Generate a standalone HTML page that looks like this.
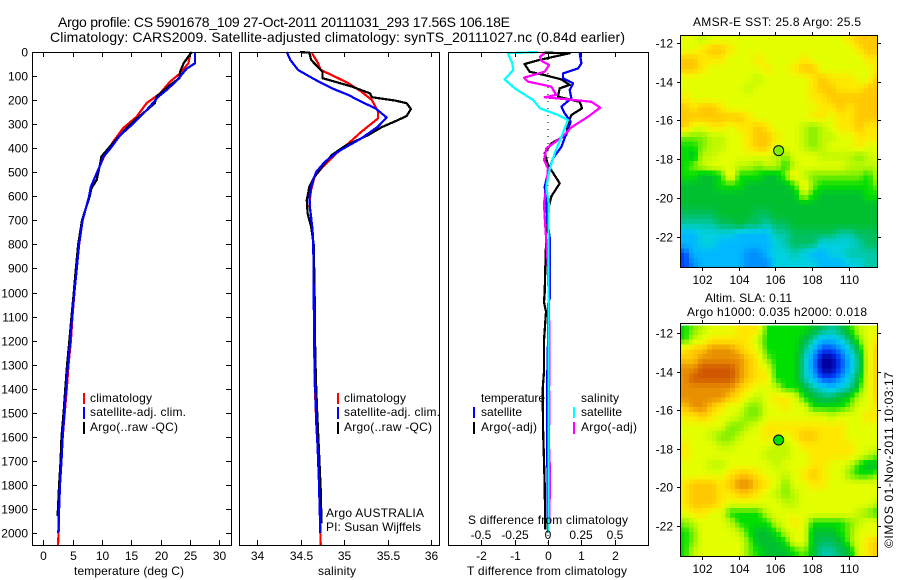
<!DOCTYPE html>
<html lang="en">
<head>
<meta charset="utf-8">
<title>Argo profile 5901678_109</title>
<style>
html,body{margin:0;padding:0;background:#fff;width:900px;height:580px;overflow:hidden}
svg{display:block}
text{font-family:"Liberation Sans",sans-serif;font-size:12px;fill:#000}
.title{font-size:14px}
</style>
</head>
<body>
<svg id="chart" xmlns="http://www.w3.org/2000/svg" width="900" height="580" viewBox="0 0 900 580">
  <rect x="0" y="0" width="900" height="580" fill="#fff"/>
  <text class="title" x="58" y="27" textLength="452">Argo profile: CS 5901678_109 27-Oct-2011 20111031_293 17.56S 106.18E</text>
  <text class="title" x="50" y="42" textLength="575">Climatology: CARS2009. Satellite-adjusted climatology: synTS_20111027.nc (0.84d earlier)</text>
  <g id="layer-maps"></g>
  <g id="layer-lines"></g>
  <g id="layer-axes"></g>

  <g>
    <rect x="83" y="393" width="2" height="11" fill="#f00"/>
    <rect x="83" y="407" width="2" height="12" fill="#00f"/>
    <rect x="83" y="422" width="2" height="12" fill="#000"/>
    <text x="90" y="402" textLength="62">climatology</text>
    <text x="90" y="416" textLength="96">satellite-adj. clim.</text>
    <text x="90" y="431" textLength="88">Argo(..raw -QC)</text>
  </g>
  <g>
    <rect x="337" y="393" width="2" height="11" fill="#f00"/>
    <rect x="337" y="407" width="2" height="12" fill="#00f"/>
    <rect x="337" y="422" width="2" height="12" fill="#000"/>
    <text x="344" y="402" textLength="62">climatology</text>
    <text x="344" y="416" textLength="96">satellite-adj. clim.</text>
    <text x="344" y="431" textLength="88">Argo(..raw -QC)</text>
    <text x="326" y="517" textLength="98">Argo AUSTRALIA</text>
    <text x="326" y="531" textLength="95">PI: Susan Wijffels</text>
  </g>
  <g>
    <text x="481" y="402" textLength="64">temperature</text>
    <rect x="473" y="407" width="2" height="11" fill="#00f"/>
    <rect x="473" y="422" width="2" height="12" fill="#000"/>
    <text x="481" y="416" textLength="41">satellite</text>
    <text x="481" y="431" textLength="56">Argo(-adj)</text>
    <text x="581" y="402" textLength="38">salinity</text>
    <rect x="573" y="407" width="2" height="11" fill="#0ff"/>
    <rect x="573" y="422" width="2" height="12" fill="#f0f"/>
    <text x="581" y="416" textLength="41">satellite</text>
    <text x="581" y="431" textLength="56">Argo(-adj)</text>
  </g>

  <text x="74" y="575" textLength="110">temperature (deg C)</text>
  <text x="318" y="575" textLength="38">salinity</text>
  <text x="467" y="575" textLength="160">T difference from climatology</text>
  <text x="468" y="524" textLength="160">S difference from climatology</text>
  <text x="693" y="26" textLength="168">AMSR-E SST: 25.8 Argo: 25.5</text>
  <text x="705" y="302" textLength="87">Altim. SLA: 0.11</text>
  <text x="687" y="316" textLength="180">Argo h1000: 0.035 h2000: 0.018</text>
  <text transform="translate(893 548) rotate(-90)" textLength="176">©IMOS 01-Nov-2011 10:03:17</text>
</svg>
<script>
// ---- Temperature profile data (deg C vs depth in m) ----
const climTempDepth = [0,47,89,123,172,213,269,317,373,437,465,520,561,600,700,800,900,1000,1100,1200,1300,1400,1500,1600,1700,1800,1900,2000,2050];
const climTemp = [25.1,24.7,23.3,21.6,19.9,17.6,15.9,13.6,11.9,10.3,9.8,8.8,8.1,7.8,6.7,6.1,5.7,5.3,4.95,4.7,4.3,4.0,3.65,3.3,3.1,2.85,2.7,2.6,2.5];
const satTempDepth = [0,47,70,120,158,186,242,298,346,402,437,465,520,561,600,700,800,900,1000,1100,1200,1300,1400,1500,1600,1700,1800,1900,2000];
const satTemp = [25.85,25.85,24.4,22.7,21,19.6,17.6,15.3,13.1,11.4,10.2,9.8,8.8,8.1,7.8,6.7,6.08,5.7,5.3,4.9,4.6,4.2,3.87,3.6,3.3,3.1,2.85,2.7,2.55];
const argoTempDepth = [0,19,47,82,109,137,186,213,255,290,345,400,435,463,532,567,600,700,800,900,1000,1100,1200,1300,1400,1500,1600,1700,1800,1900,1930];
const argoTemp = [25.3,24.7,23.9,23.3,23.2,21.6,19.3,19,17,15.3,13.1,11.1,9.9,9.7,9.1,8.2,7.9,6.6,5.95,5.55,5.2,4.8,4.45,4.05,3.75,3.45,3.1,2.95,2.7,2.5,2.4];

// ---- Salinity profile data (psu vs depth in m) ----
const climSalDepth = [5,47,75,96,130,165,200,248,276,331,380,428,484,518,574,629,685,733,800,1000,1200,1364,1544,1641,1780,1974,2050];
const climSal = [34.63,34.7,34.73,34.86,35.05,35.2,35.32,35.39,35.39,35.2,35.05,34.89,34.74,34.66,34.62,34.6,34.62,34.63,34.645,34.65,34.655,34.66,34.68,34.695,34.71,34.725,34.73];
const satSalDepth = [0,33,75,114,151,179,207,234,272,310,359,414,456,498,546,601,657,733,800,1000,1200,1364,1544,1641,1780,1974,2000];
const satSal = [34.34,34.38,34.47,34.66,34.86,35.05,35.2,35.36,35.49,35.39,35.2,34.93,34.78,34.68,34.63,34.6,34.61,34.635,34.645,34.65,34.655,34.665,34.68,34.695,34.71,34.725,34.725];
const argoSalDepth = [0,3,33,82,109,123,144,172,188,202,213,237,266,283,313,345,391,428,470,518,560,615,671,726,800,1000,1200,1364,1502,1655,1821,1960];
const argoSal = [34.49,34.6,34.62,34.75,34.75,34.89,35.09,35.3,35.32,35.59,35.72,35.77,35.72,35.62,35.43,35.28,35.01,34.86,34.76,34.66,34.6,34.57,34.58,34.62,34.65,34.66,34.665,34.675,34.69,34.71,34.73,34.74];

// ---- Differences from climatology ----
const satDiffTDepth = [5,47,68,89,109,130,158,193,227,255,290,338,394,442,504,560,629,699,780,1020,1050,1200,1400,1560,2000];
const satDiffT = [0.95,1,0.9,0.45,0.45,0.75,0.65,0.7,0.4,0.5,0.68,0.55,0.4,0.15,0,-0.1,-0.05,-0.02,0.06,0.06,0,0,-0.03,-0.03,0];
const argoDiffTDepth = [3,5,33,50,82,96,114,137,151,186,207,234,262,297,345,380,421,470,546,601,657,699,800,900,1000,1040,1080,1200,1330,1400,1560,1700,1800,1900,1985];
const argoDiffT = [-0.1,0.65,-0.25,-0.7,-0.55,-0.1,0.4,0.65,0.35,0.3,0.95,1.02,0.7,0.6,0.55,0.1,-0.1,0,0.35,0.1,0,-0.05,-0.06,-0.08,-0.1,-0.12,-0.06,-0.12,-0.12,-0.16,-0.15,-0.12,-0.1,-0.09,-0.08];
const satDiffSDepth = [0,5,47,75,114,151,200,234,262,283,352,421,490,560,629,800,1200,2000];
const satDiffS = [-0.075,-0.3,-0.268,-0.26,-0.325,-0.25,-0.11,-0.06,0.075,0.15,0.1,0.05,0.012,-0.012,0.005,0.003,0.003,0.003];
const argoDiffSDepth = [5,19,36,54,82,107,123,144,179,188,197,207,231,269,313,352,400,449,484,560,629,685,900,1150,1350,1400,1500,1600,1750,1960];
const argoDiffS = [-0.025,-0.06,-0.05,0.008,-0.025,-0.18,-0.15,0.025,0.062,-0.025,0.15,0.325,0.39,0.3,0.175,0.11,-0.012,-0.03,0,-0.012,-0.03,-0.025,0,0.01,0.01,0.008,0.012,0.005,0.015,0.01];

// ---- Tick labels ----
const depthTicks = [0,100,200,300,400,500,600,700,800,900,1000,1100,1200,1300,1400,1500,1600,1700,1800,1900,2000];
const tempTicks = [0,5,10,15,20,25,30];
const salTicks = [34,34.5,35,35.5,36];
const diffTTicks = [-2,-1,0,1,2];
const diffSTicks = [-0.5,-0.25,0,0.25,0.5];
const lonTicks = [102,104,106,108,110];
const latTicks = [-12,-14,-16,-18,-20,-22];

// ---- Map data: one character per 0.5 degree cell, index into mapLevels ----
const mapLevels = ['#0000a0','#0040ff','#0090ff','#00b8ff','#00d0e0','#00c8a8','#00c060','#00c030','#00e000','#80f000','#c0f800','#e4ff00','#ffe800','#ffc800','#e89000','#d05800'];
const sstRows = [
 "bbabbbbbbbbbbbbbbbcddd",
 "bbcddcbbbbbbbbbbbbbcdd",
 "ddcccbbbcbbbbcbbbbbbcc",
 "ddcbbbbbbcbbcddbbbbbbc",
 "bbbbbbbbabbbbbcdcccbbd",
 "bbbbbbbabbbbbbcddcccdd",
 "cbbbbbbbbbbbbbccdddddd",
 "dcddcbbbbbbbbbbccdcddd",
 "dddddddcbbbbbbccbccddd",
 "dbbccbccdcbbba9abccdcc",
 "999aabbcddcbba9aabbccc",
 "889aabbcddbbba9abbbcbb",
 "87aabbbbbba9bbbaaaa9ab",
 "89abbbaa9aa8abbbbbaaaa",
 "88778c888779ca9999998a",
 "7777888777778c98888889",
 "7777777777777a87777788",
 "7777777777777777777777",
 "6666777766777777777777",
 "5555667665667777777777",
 "3344443333556666655666",
 "3344333333456664444566",
 "1333333223445433445555",
 "1233333222444443334455"
];
const slaRows = [
 "89abbbccc888887656 8abb".replace(' ',''),
 "8abccccca888875334 69bc".replace(' ',''),
 "cddeeedcb888863112 47bd".replace(' ',''),
 "ddeeeeedc988852001 36bd".replace(' ',''),
 "eeffffedcb88852001 36bd".replace(' ',''),
 "efffffedcc88853112 47bd".replace(' ',''),
 "eeeeeedcbba8875434 58bd".replace(' ',''),
 "eeeeedcbabccb87667 8abd".replace(' ',''),
 "deedcbb99bbcbb8888 9bbc".replace(' ',''),
 "ccdcbba99bbbbbbbabbbcc",
 "bbbbb99abcccccccccbbbb",
 "bbba99abbccbcddcccbbbb",
 "cbbbaabbbbaabccccccbbb",
 "cbbbbbbbbaaabbcccccba9",
 "bbbaabbbbbabbbccbba877",
 "bbbbbcddcbbabcdcbb9889",
 "cdddcdeedcb9bbccbbbbbb",
 "cdddccddcba9abbbbbbbbb",
 "cdddcbbbbbbaabbbbbbbba",
 "bccbb8888abbbbbbbbba98",
 "9abbba8888abcb88889abb",
 "89bbbba8778abb77789bbb",
 "89bbbbb97778bb76679bcd",
 "8abbbbb987778975567bcd"
];
const argoLon = 106.18;
const argoLat = -17.56;
const sstDotLevel = 9;
const slaDotLevel = 8;

// ---- Axis functions ----
const depthY = d => 52 + d * 0.2405;
const tempX = t => 43.3 + t * 5.87;
const salX = s => 257.3 + (s - 34) * 86.8;
const diffTX = t => 548 + t * 33.4;
const diffSX = s => 548 + s * 4 * 33.4;
const lonX = lon => 701.7 + (lon - 102) * 18.4;
const sstLatY = lat => 42.7 + (-12 - lat) * 19.4;
const slaLatY = lat => 333 + (-12 - lat) * 19.25;

const NS = 'http://www.w3.org/2000/svg';
const axesLayer = document.getElementById('layer-axes');
const linesLayer = document.getElementById('layer-lines');
const mapsLayer = document.getElementById('layer-maps');

function make(tag, parent, attrs, content) {
  const el = document.createElementNS(NS, tag);
  for (const k in attrs) el.setAttribute(k, attrs[k]);
  if (content !== undefined) el.textContent = content;
  parent.appendChild(el);
  return el;
}

function drawProfile(values, depths, xFn, color, name) {
  const pts = values.map((v, i) => xFn(v).toFixed(1) + ',' + depthY(depths[i]).toFixed(1)).join(' ');
  const el = make('polyline', linesLayer, {points: pts, fill: 'none', stroke: color, 'stroke-width': 2.25, 'stroke-linejoin': 'round', 'shape-rendering': 'crispEdges'});
  
  
}

function drawFrame(x0, x1, y0, y1, name) {
  const el = make('rect', axesLayer, {x: x0 + 0.5, y: y0 + 0.5, width: x1 - x0, height: y1 - y0, fill: 'none', stroke: '#000', 'stroke-width': 1, 'shape-rendering': 'crispEdges'});
  
  
}

function drawTick(x1, y1, x2, y2) {
  const el = make('line', axesLayer, {x1: x1, y1: y1, x2: x2, y2: y2, stroke: '#000', 'stroke-width': 1, 'shape-rendering': 'crispEdges'});
  
  
}

function drawLabel(x, y, anchor, str) {
  const el = make('text', axesLayer, {x: x, y: y, 'text-anchor': anchor}, str);
  
  
}

function hexToRgb(h) {
  return [parseInt(h.slice(1, 3), 16), parseInt(h.slice(3, 5), 16), parseInt(h.slice(5, 7), 16)];
}

// Continuous colour scale across the palette stops
function levelColor(v) {
  const lo = Math.max(0, Math.min(mapLevels.length - 1, Math.floor(v)));
  const hi = Math.min(mapLevels.length - 1, lo + 1);
  const f = v - lo;
  const a = hexToRgb(mapLevels[lo]);
  const b = hexToRgb(mapLevels[hi]);
  return 'rgb(' + a.map((p, i) => Math.round(p + (b[i] - p) * f)).join(',') + ')';
}

// Bilinear read of a grid at fractional row / column, used for the finer display cells
function gridValue(rows, r, c) {
  const nr = rows.length;
  const nc = rows[0].length;
  const r0 = Math.max(0, Math.min(nr - 1, Math.floor(r)));
  const r1 = Math.max(0, Math.min(nr - 1, r0 + 1));
  const c0 = Math.max(0, Math.min(nc - 1, Math.floor(c)));
  const c1 = Math.max(0, Math.min(nc - 1, c0 + 1));
  const fr = Math.max(0, Math.min(1, r - r0));
  const fc = Math.max(0, Math.min(1, c - c0));
  const at = (i, j) => parseInt(rows[i][j], 16);
  return (at(r0, c0) * (1 - fc) + at(r0, c1) * fc) * (1 - fr) + (at(r1, c0) * (1 - fc) + at(r1, c1) * fc) * fr;
}

function drawMap(rows, latY, x0, x1, y0, y1, dotLevel, prefix) {
  const clipId = prefix + '-clip';
  const defs = make('clipPath', mapsLayer, {id: clipId});
  make('rect', defs, {x: x0, y: y0, width: x1 - x0, height: y1 - y0});
  const group = make('g', mapsLayer, {'clip-path': 'url(#' + clipId + ')', 'shape-rendering': 'crispEdges'});
  
  
  const subRows = rows.length * 2;
  const subCols = rows[0].length * 2;
  for (let r = 0; r < subRows; r++) {
    for (let c = 0; c < subCols; c++) {
      const latTop = -11.6 - r * 0.25;
      const lonLeft = 100.8 + c * 0.25;
      const px = lonX(lonLeft);
      const py = latY(latTop);
      const v = gridValue(rows, (r + 0.5) / 2 - 0.5, (c + 0.5) / 2 - 0.5);
      const cell = make('rect', group, {x: px.toFixed(2), y: py.toFixed(2), width: (lonX(lonLeft + 0.25) - px + 0.6).toFixed(2), height: (latY(latTop - 0.25) - py + 0.6).toFixed(2), fill: levelColor(v)});
      
      
    }
  }
  drawFrame(x0, x1, y0, y1, prefix + '-frame');
  lonTicks.forEach(lon => {
    const x = Math.round(lonX(lon)) + 0.5;
    drawTick(x, y0 - 3, x, y0);
    drawTick(x, y1 + 1, x, y1 + 4);
    drawLabel(x, y1 + 17, 'middle', String(lon));
  });
  latTicks.forEach(lat => {
    const y = Math.round(latY(lat)) + 0.5;
    drawTick(x0 - 3, y, x0, y);
    drawTick(x1 + 1, y, x1 + 4, y);
    drawLabel(x0 - 7, y + 4, 'end', String(lat));
  });
  const dot = make('circle', mapsLayer, {cx: lonX(argoLon), cy: latY(argoLat), r: 5, fill: mapLevels[dotLevel], stroke: '#000', 'stroke-width': 1});
  
  
}

// ---- Maps ----
drawMap(sstRows, sstLatY, 680, 877, 35, 267, sstDotLevel, 'sst-map');
drawMap(slaRows, slaLatY, 680, 877, 323, 556, slaDotLevel, 'sla-map');

// ---- Profile series ----
drawProfile(climTemp, climTempDepth, tempX, '#f00', 'temperature-climatology-line');
drawProfile(argoTemp, argoTempDepth, tempX, '#000', 'temperature-argo-line');
drawProfile(satTemp, satTempDepth, tempX, '#00f', 'temperature-satellite-line');
drawProfile(climSal, climSalDepth, salX, '#f00', 'salinity-climatology-line');
drawProfile(argoSal, argoSalDepth, salX, '#000', 'salinity-argo-line');
drawProfile(satSal, satSalDepth, salX, '#00f', 'salinity-satellite-line');

const zeroLine = make('line', linesLayer, {x1: diffTX(0), y1: 52, x2: diffTX(0), y2: 545, stroke: '#000', 'stroke-width': 1, 'stroke-dasharray': '1 6', 'shape-rendering': 'crispEdges'});



drawProfile(argoDiffT, argoDiffTDepth, diffTX, '#000', 't-difference-argo-line');
drawProfile(satDiffT, satDiffTDepth, diffTX, '#00f', 't-difference-satellite-line');
drawProfile(argoDiffS, argoDiffSDepth, diffSX, '#f0f', 's-difference-argo-line');
drawProfile(satDiffS, satDiffSDepth, diffSX, '#0ff', 's-difference-satellite-line');

// ---- Frames, ticks, labels ----
drawFrame(32, 231, 52, 545, 'temperature-panel-frame');
drawFrame(239, 439, 52, 545, 'salinity-panel-frame');
drawFrame(448, 648, 52, 545, 'difference-panel-frame');

depthTicks.forEach(d => {
  const y = Math.round(depthY(d)) + 0.5;
  drawTick(32, y, 37, y);
  drawTick(226, y, 231, y);
  drawLabel(28, y + 4, 'end', String(d));
});
tempTicks.forEach(t => {
  const x = Math.round(tempX(t)) + 0.5;
  drawTick(x, 52, x, 57);
  drawTick(x, 540, x, 545);
  drawLabel(x, 560, 'middle', String(t));
});
salTicks.forEach(s => {
  const x = Math.round(salX(s)) + 0.5;
  drawTick(x, 52, x, 57);
  drawTick(x, 540, x, 545);
  drawLabel(x, 560, 'middle', String(s));
});
diffTTicks.forEach(t => {
  const x = Math.round(diffTX(t)) + 0.5;
  drawTick(x, 52, x, 57);
  drawTick(x, 540, x, 545);
  drawLabel(x, 560, 'middle', String(t));
});
diffSTicks.forEach(s => {
  const x = Math.round(diffSX(s));
  drawLabel(x, 539, 'middle', String(s));
});
</script>
</body>
</html>
